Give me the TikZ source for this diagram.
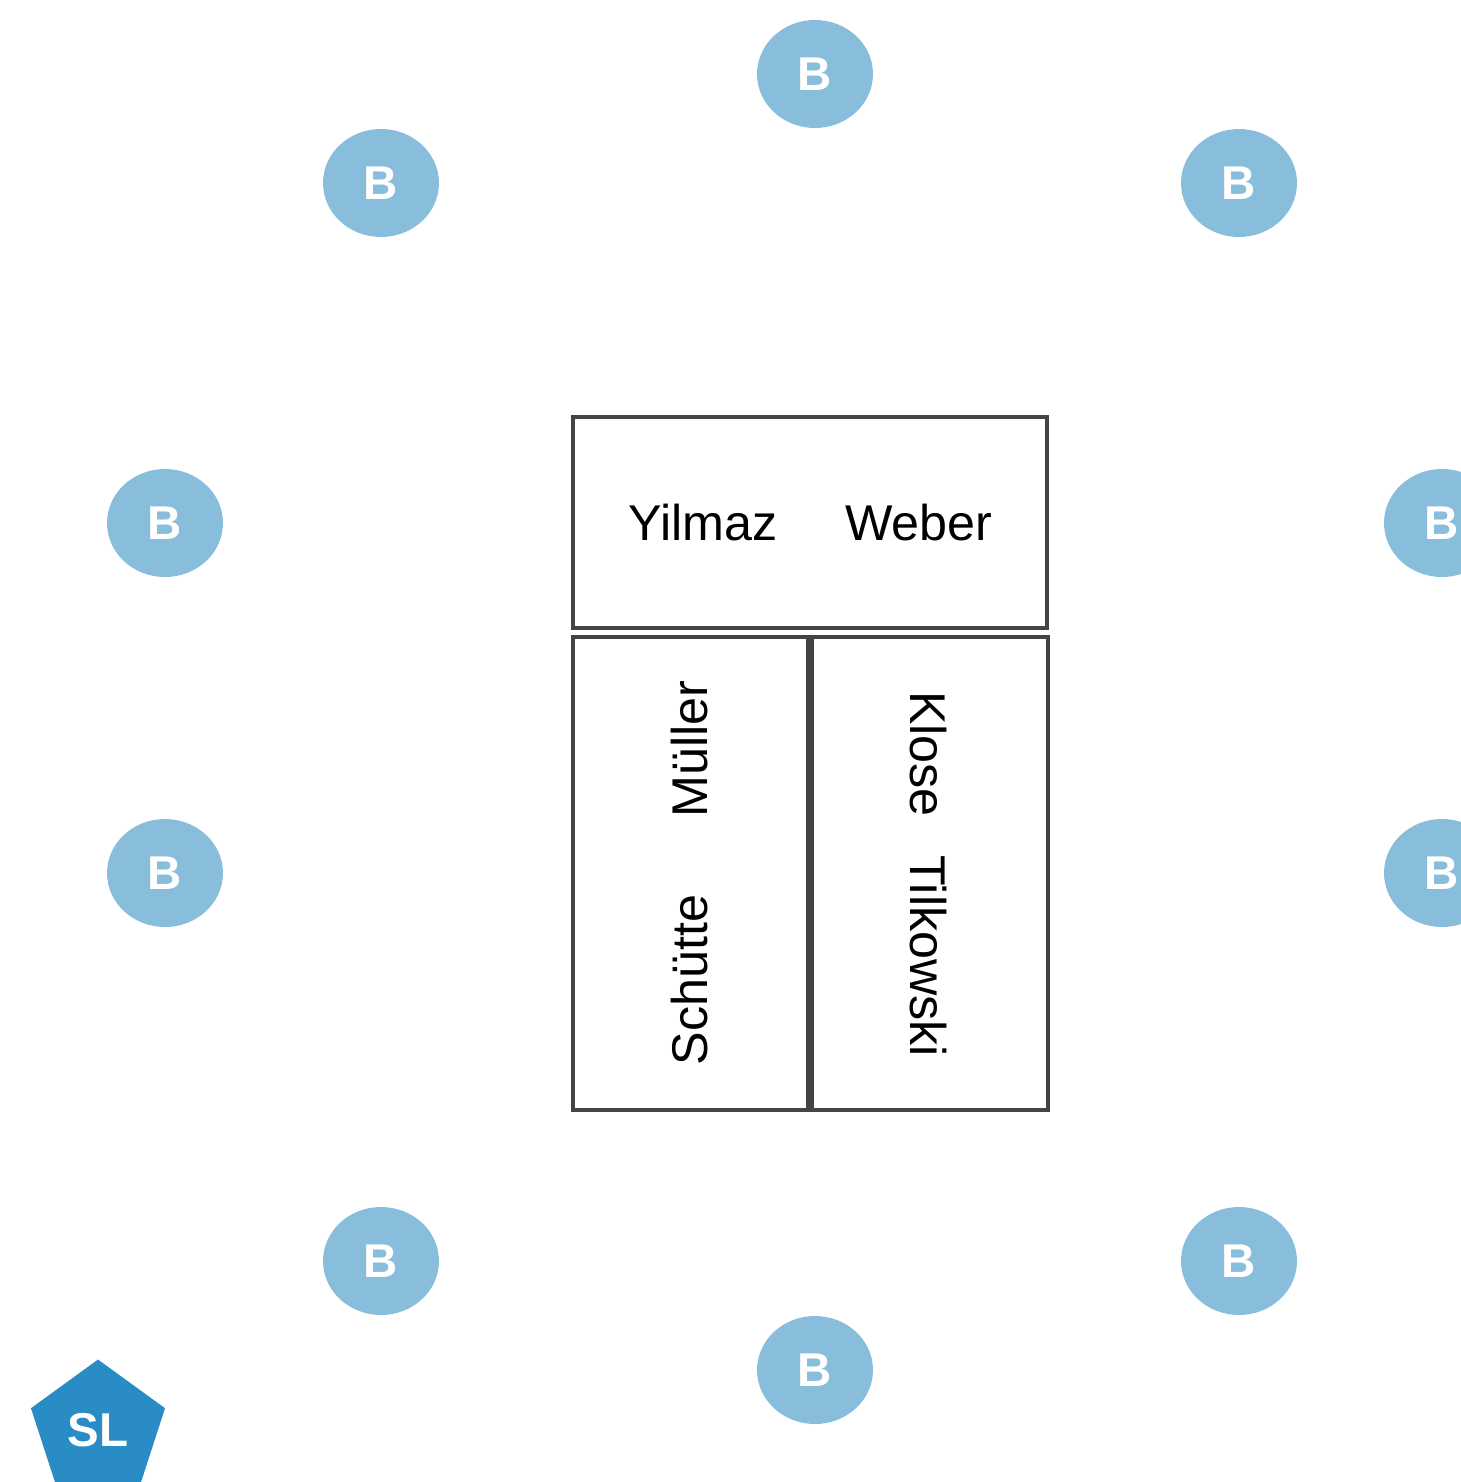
\documentclass[tikz,border=0pt]{standalone}
\usepackage{fontspec}
\setmainfont{Liberation Sans}
\usetikzlibrary{shapes.geometric}

\definecolor{bubblefill}{HTML}{88BEDB}
\definecolor{leaderfill}{HTML}{2A8CC4}
\definecolor{framegray}{HTML}{444444}

\tikzset{
	bubble/.style={ellipse,fill=bubblefill,minimum width=2.32cm,minimum height=2.16cm,inner sep=0pt,text=white,font=\fontsize{27}{32}\selectfont\bfseries},
	leader/.style={regular polygon,regular polygon sides=5,fill=leaderfill,minimum size=2.82cm,inner sep=0pt,text=white,font=\fontsize{27}{32}\selectfont\bfseries},
	frame/.style={draw=framegray,line width=2.1pt},
	playername/.style={font=\fontsize{28.6}{33}\selectfont,inner sep=0pt}
}

\begin{document}
\begin{tikzpicture}[x=0.02cm,y=-0.02cm]
	
	%\draw[help lines] (0,0) grid[step=100] (1461,1482);
	\useasboundingbox (0,0) rectangle (1461,1482);
	
	% table
	\draw[frame] (573,417) rectangle (1047,628);
	\draw[frame] (573,637) rectangle (808,1110);
	\draw[frame] (812,637) rectangle (1048,1110);
	
	\node[playername] (yilmaz) at (703,523) {Yilmaz};
	\node[playername] (weber) at (919,523) {Weber};
	\node[playername,rotate=90] (mueller) at (690,749) {Müller};
	\node[playername,rotate=90] (schuette) at (690,980) {Schütte};
	\node[playername,rotate=-90] (klose) at (928,754) {Klose};
	\node[playername,rotate=-90] (tilkowski) at (928,956) {Tilkowski};
	
	% players around the table
	\node[bubble] (b1) at (815,74) {B};
	\node[bubble] (b2) at (381,183) {B};
	\node[bubble] (b3) at (1239,183) {B};
	\node[bubble] (b4) at (165,523) {B};
	\node[bubble] (b5) at (1442,523) {B};
	\node[bubble] (b6) at (165,873) {B};
	\node[bubble] (b7) at (1442,873) {B};
	\node[bubble] (b8) at (381,1261) {B};
	\node[bubble] (b9) at (1239,1261) {B};
	\node[bubble] (b10) at (815,1370) {B};
	
	\node[leader] (sl) at (98,1430) {SL};
	
\end{tikzpicture}
\end{document}
